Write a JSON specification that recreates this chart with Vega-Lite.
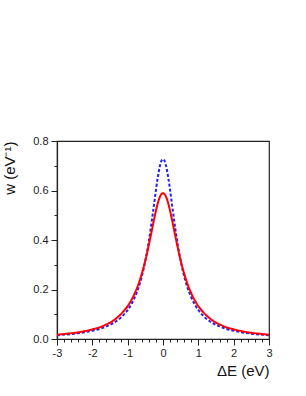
{
  "$schema": "https://vega.github.io/schema/vega-lite/v6.json",
  "width": 212,
  "height": 198,
  "autosize": {"type": "none"},
  "padding": {"left": 57, "top": 141, "right": 37, "bottom": 57},
  "background": "white",
  "config": {
    "view": {"stroke": "#222", "strokeWidth": 1.2},
    "font": "Liberation Sans",
    "axis": {"grid": false, "domainColor": "#222", "tickColor": "#222", "labelColor": "#222", "titleColor": "#111", "labelFont": "Liberation Sans", "titleFont": "Liberation Sans", "titleFontWeight": "normal", "labelFontSize": 11, "titleFontSize": 15}
  },
  "data": {
    "values": [
      {"x": -3.0, "blue": 0.0152, "red": 0.017},
      {"x": -2.75, "blue": 0.0180, "red": 0.021},
      {"x": -2.5, "blue": 0.0216, "red": 0.025},
      {"x": -2.25, "blue": 0.0265, "red": 0.031},
      {"x": -2.0, "blue": 0.0333, "red": 0.039},
      {"x": -1.8, "blue": 0.0406, "red": 0.047},
      {"x": -1.6, "blue": 0.0507, "red": 0.059},
      {"x": -1.4, "blue": 0.0648, "red": 0.075},
      {"x": -1.2, "blue": 0.0854, "red": 0.0993},
      {"x": -1.0, "blue": 0.117, "red": 0.133},
      {"x": -0.9, "blue": 0.139, "red": 0.156},
      {"x": -0.8, "blue": 0.168, "red": 0.185},
      {"x": -0.7, "blue": 0.204, "red": 0.220},
      {"x": -0.6, "blue": 0.253, "red": 0.264},
      {"x": -0.5, "blue": 0.316, "red": 0.317},
      {"x": -0.4, "blue": 0.396, "red": 0.381},
      {"x": -0.35, "blue": 0.444, "red": 0.415},
      {"x": -0.3, "blue": 0.495, "red": 0.450},
      {"x": -0.25, "blue": 0.548, "red": 0.485},
      {"x": -0.2, "blue": 0.602, "red": 0.518},
      {"x": -0.15, "blue": 0.651, "red": 0.547},
      {"x": -0.1, "blue": 0.691, "red": 0.570},
      {"x": -0.05, "blue": 0.718, "red": 0.584},
      {"x": 0.0, "blue": 0.727, "red": 0.589},
      {"x": 0.05, "blue": 0.718, "red": 0.584},
      {"x": 0.1, "blue": 0.691, "red": 0.570},
      {"x": 0.15, "blue": 0.651, "red": 0.547},
      {"x": 0.2, "blue": 0.602, "red": 0.518},
      {"x": 0.25, "blue": 0.548, "red": 0.485},
      {"x": 0.3, "blue": 0.495, "red": 0.450},
      {"x": 0.35, "blue": 0.444, "red": 0.415},
      {"x": 0.4, "blue": 0.396, "red": 0.381},
      {"x": 0.5, "blue": 0.316, "red": 0.317},
      {"x": 0.6, "blue": 0.253, "red": 0.264},
      {"x": 0.7, "blue": 0.204, "red": 0.220},
      {"x": 0.8, "blue": 0.168, "red": 0.185},
      {"x": 0.9, "blue": 0.139, "red": 0.156},
      {"x": 1.0, "blue": 0.117, "red": 0.133},
      {"x": 1.2, "blue": 0.0854, "red": 0.0993},
      {"x": 1.4, "blue": 0.0648, "red": 0.075},
      {"x": 1.6, "blue": 0.0507, "red": 0.059},
      {"x": 1.8, "blue": 0.0406, "red": 0.047},
      {"x": 2.0, "blue": 0.0333, "red": 0.039},
      {"x": 2.25, "blue": 0.0265, "red": 0.031},
      {"x": 2.5, "blue": 0.0216, "red": 0.025},
      {"x": 2.75, "blue": 0.0180, "red": 0.021},
      {"x": 3.0, "blue": 0.0152, "red": 0.017}
    ]
  },
  "transform": [{"fold": ["blue", "red"], "as": ["series", "w"]}],
  "layer": [
    {
      "mark": {"type": "line", "interpolate": "monotone", "strokeWidth": 2, "clip": true},
      "encoding": {
        "x": {"field": "x", "type": "quantitative", "scale": {"domain": [-3, 3], "nice": false, "zero": false},
          "axis": {"orient": "bottom", "values": [-3, -2, -1, 0, 1, 2, 3], "labelExpr": "toString(datum.value)", "tickSize": 6, "labelPadding": 2, "domainWidth": 1.2, "title": "ΔE (eV)", "titleAnchor": "end", "titleAlign": "right", "titleBaseline": "alphabetic", "titleY": 36, "labelFlush": false}},
        "y": {"field": "w", "type": "quantitative", "scale": {"domain": [0, 0.8], "nice": false},
          "axis": {"orient": "left", "values": [0, 0.2, 0.4, 0.6, 0.8], "tickSize": 6, "labelPadding": 3, "domainWidth": 1.2, "title": "w (eV⁻¹)", "titleAngle": -90, "titleAnchor": "end", "titleAlign": "right", "titleBaseline": "bottom", "titleX": -40, "titleY": 0, "labelFlush": false}},
        "color": {"field": "series", "type": "nominal", "scale": {"domain": ["blue", "red"], "range": ["#1f1fff", "#ff0000"]}, "legend": null},
        "strokeDash": {"field": "series", "type": "nominal", "scale": {"domain": ["blue", "red"], "range": [[3, 2], [1, 0]]}, "legend": null},
        "order": {"field": "series", "sort": "ascending"}
      }
    },
    {
      "mark": {"type": "point", "opacity": 0},
      "encoding": {
        "x": {"field": "x", "type": "quantitative",
          "axis": {"orient": "bottom", "values": [-2.8, -2.6, -2.4, -2.2, -1.8, -1.6, -1.4, -1.2, -0.8, -0.6, -0.4, -0.2, 0.2, 0.4, 0.6, 0.8, 1.2, 1.4, 1.6, 1.8, 2.2, 2.4, 2.6, 2.8], "labels": false, "domain": false, "tickSize": 3, "title": null}},
        "y": {"field": "w", "type": "quantitative",
          "axis": {"orient": "left", "values": [0.1, 0.3, 0.5, 0.7], "labels": false, "domain": false, "tickSize": 3, "title": null}}
      }
    }
  ],
  "resolve": {"axis": {"x": "independent", "y": "independent"}}
}
